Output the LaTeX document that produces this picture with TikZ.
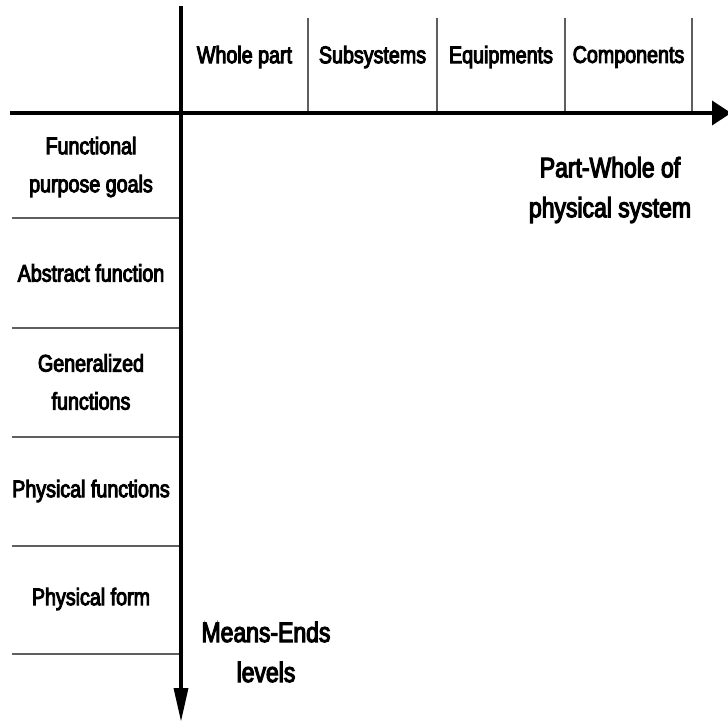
\documentclass[tikz,border=0pt]{standalone}
\usepackage{fontspec}
\setmainfont[FakeStretch=0.82,FakeBold=4]{Liberation Sans}
\usetikzlibrary{arrows.meta}
\definecolor{sepgray}{RGB}{95,95,95}
\tikzset{
  axisline/.style={line width=3.5pt, black},
  sepline/.style={line width=1.6pt, sepgray},
  hdr/.style={font=\fontsize{24}{38}\selectfont, align=center, inner sep=0pt},
  lvl/.style={font=\fontsize{24}{38}\selectfont, align=center, inner sep=0pt},
  big/.style={font=\fontsize{28}{40}\selectfont, align=center, inner sep=0pt}
}
\begin{document}
\begin{tikzpicture}[x=1pt,y=-1pt]
\useasboundingbox (0,0) rectangle (728,722);
% axes
\coordinate (vtop) at (181,6);
\coordinate (vend) at (181,690);
\coordinate (vtip) at (181,721);
\coordinate (hstart) at (10,113);
\coordinate (hend) at (714,113);
\coordinate (htip) at (731,113);
\draw[axisline] (vtop) -- (vend);
\fill (vtip) -- (173.5,688) -- (188.5,688) -- cycle;
\draw[axisline] (hstart) -- (hend);
\fill (htip) -- (712,100.5) -- (712,125.5) -- cycle;
% column separators
\foreach \x in {308,437,565,692} \draw[sepline] (\x,18) -- (\x,111);
% row separators
\foreach \y in {218,328,437,546,654} \draw[sepline] (12,\y) -- (179,\y);
% headers
\node[hdr] (wp) at (244.5,57) {Whole part};
\node[hdr] (ss) at (372.5,57) {Subsystems};
\node[hdr] (eq) at (501,57) {Equipments};
\node[hdr] (cp) at (628.5,57) {Components};
% levels
\node[lvl] (fp) at (91,167) {Functional\\purpose goals};
\node[lvl] (af) at (91,273) {Abstract function};
\node[lvl] (gf) at (91,382) {Generalized\\functions};
\node[lvl] (pf) at (91,491) {Physical functions};
\node[lvl] (pfo) at (91,599) {Physical form};
% axis titles
\node[big] (pw) at (610,190) {Part-Whole of\\physical system};
\node[big] (me) at (266,652) {Means-Ends\\levels};
\end{tikzpicture}
\end{document}
